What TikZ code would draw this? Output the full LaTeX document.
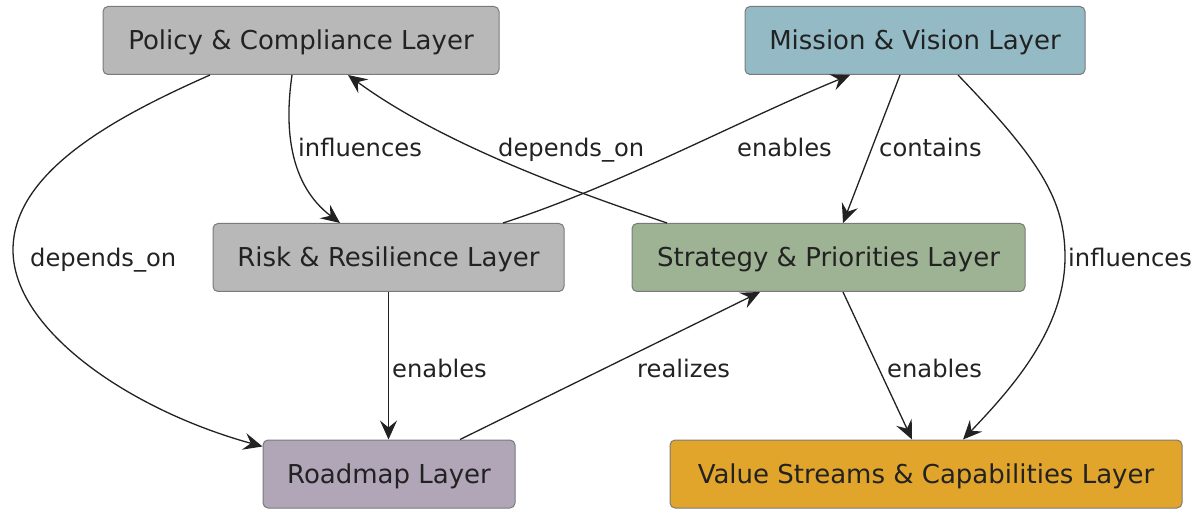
\documentclass[tikz,border=0pt]{standalone}
\usepackage{fontspec}
\setmainfont{DejaVu Sans}
\usetikzlibrary{arrows.meta}
\definecolor{ink}{HTML}{222222}
\definecolor{edgeline}{HTML}{7A7A7A}
\definecolor{greyfill}{HTML}{B8B8B8}
\definecolor{bluefill}{HTML}{94BAC6}
\definecolor{greenfill}{HTML}{9EB294}
\definecolor{mauvefill}{HTML}{B0A6B8}
\definecolor{amberfill}{HTML}{E2A52C}
\begin{document}
\begin{tikzpicture}[x=1pt,y=-1pt,
  layer/.style={draw=edgeline, line width=1pt, rounded corners=5pt,
    minimum height=68pt, inner sep=0pt, text=ink,
    text height=19pt, text depth=0pt,
    font=\fontsize{26}{30}\selectfont},
  rel/.style={draw=ink, line width=1.3pt,
    -{Stealth[length=19pt,width=17pt,inset=7pt]}},
  lbl/.style={inner sep=0pt, anchor=base west, text=ink,
    font=\fontsize{24.2}{28}\selectfont}]
\useasboundingbox (0,0) rectangle (1201,510);

% layers
\node[layer, fill=greyfill,  minimum width=396pt] (pol)  at (301,40.5)  {Policy \& Compliance Layer};
\node[layer, fill=bluefill,  minimum width=340pt] (mis)  at (915,40.5)  {Mission \& Vision Layer};
\node[layer, fill=greyfill,  minimum width=351pt] (risk) at (388.5,257.5) {Risk \& Resilience Layer};
\node[layer, fill=greenfill, minimum width=393pt] (strat) at (828.5,257.5) {Strategy \& Priorities Layer};
\node[layer, fill=mauvefill, minimum width=252pt] (road) at (389,474)   {Roadmap Layer};
\node[layer, fill=amberfill, minimum width=512pt] (val)  at (926,474)   {Value Streams \& Capabilities Layer};

% relations
\draw[rel] ([xshift=-91pt]pol.south) .. controls (120,115) and (13,170) .. (13,250)
  .. controls (13,330) and (130,410) .. ([yshift=-7pt]road.north west);
\draw[rel] ([xshift=-9pt]pol.south) .. controls (284,130) and (290,185) .. ([xshift=-48.5pt]risk.north);
\draw[rel] ([xshift=-161.5pt]strat.north) .. controls (600,200) and (450,150) .. ([xshift=47pt]pol.south);
\draw[rel] ([xshift=114.5pt]risk.north) .. controls (620,185) and (740,120) .. ([xshift=-65pt]mis.south);
\draw[rel] ([xshift=-15pt]mis.south) -- ([xshift=14.5pt]strat.north);
\draw[rel] ([xshift=43pt]mis.south) .. controls (1040,160) and (1065,200) .. (1065,257)
  .. controls (1065,330) and (1010,390) .. ([xshift=37pt]val.north);
\draw[rel] (risk.south) -- (risk.south |- road.north);
\draw[rel] ([xshift=71pt]road.north) -- ([xshift=-68.5pt]strat.south);
\draw[rel] ([xshift=14.5pt]strat.south) -- ([xshift=-14pt]val.north);

% relation labels
\node[lbl] (l1) at (30,267)   {depends\_on};
\node[lbl] (l2) at (298,157)  {influences};
\node[lbl] (l3) at (498,157)  {depends\_on};
\node[lbl] (l4) at (737,157)  {enables};
\node[lbl] (l5) at (879,157)  {contains};
\node[lbl] (l6) at (1068,267) {influences};
\node[lbl] (l7) at (392,377)  {enables};
\node[lbl] (l8) at (637,377)  {realizes};
\node[lbl] (l9) at (887,377)  {enables};
\end{tikzpicture}
\end{document}
